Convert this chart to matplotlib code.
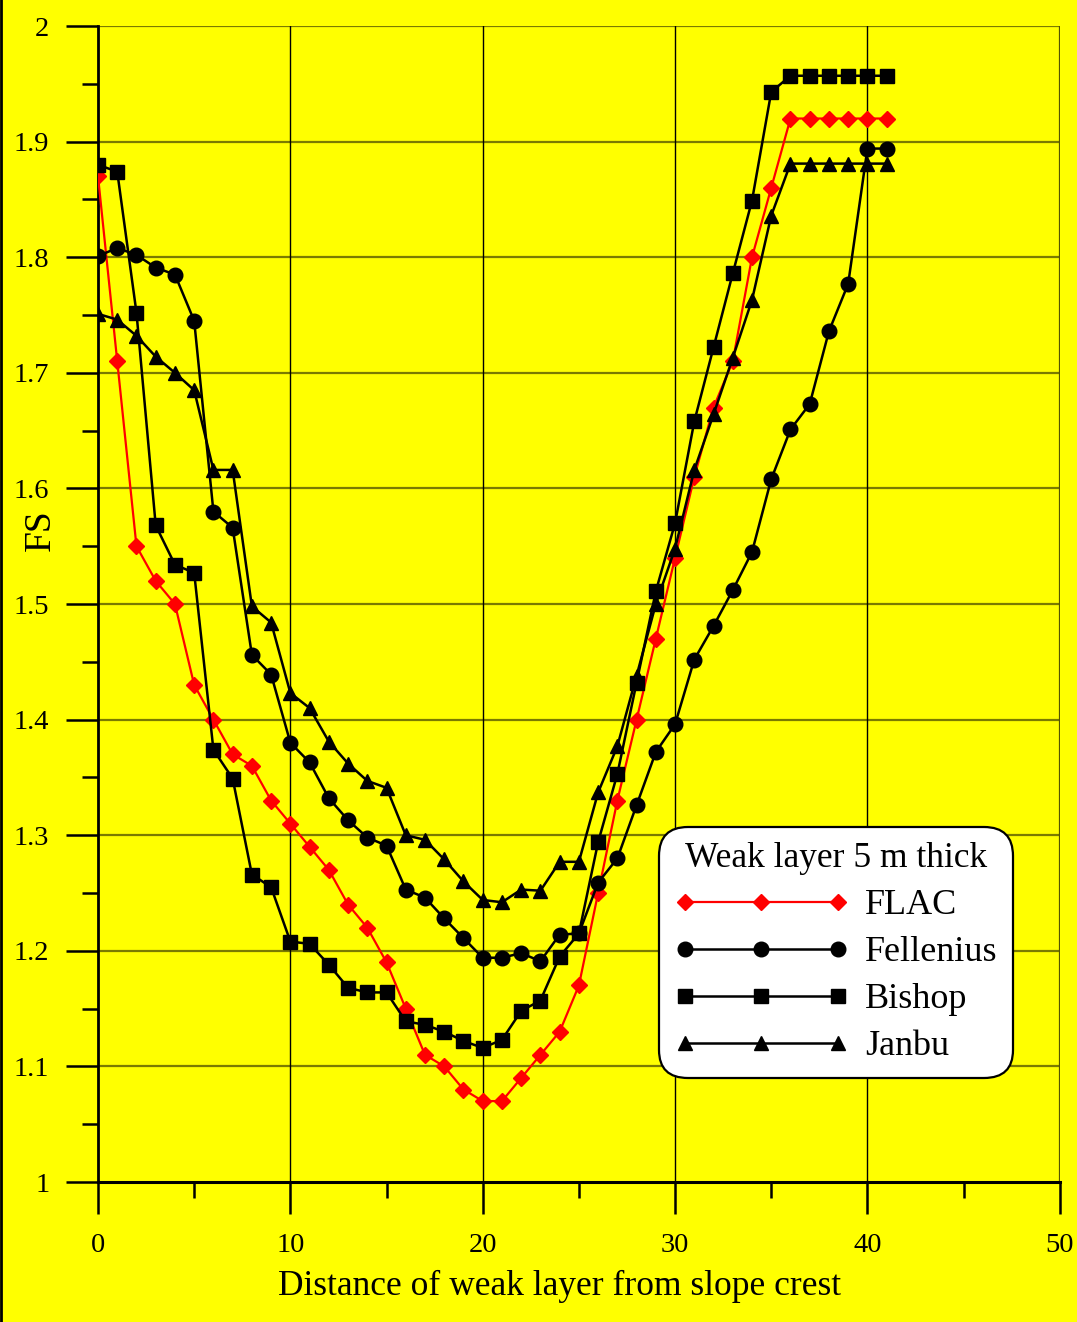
import matplotlib
matplotlib.use("Agg")
import matplotlib.pyplot as plt
from matplotlib.lines import Line2D
from matplotlib.ticker import MultipleLocator

plt.rcParams['font.family'] = ['Liberation Serif', 'DejaVu Serif']

# distance of weak layer from slope crest (m)
dist = list(range(0, 42))

fs_flac = [1.87, 1.71, 1.55, 1.52, 1.50, 1.43, 1.40, 1.37, 1.36, 1.33,
           1.31, 1.29, 1.27, 1.24, 1.22, 1.19, 1.15, 1.11, 1.10, 1.08,
           1.07, 1.07, 1.09, 1.11, 1.13, 1.17, 1.25, 1.33, 1.40, 1.47,
           1.54, 1.61, 1.67, 1.71, 1.80, 1.86, 1.92, 1.92, 1.92, 1.92,
           1.92, 1.92]
fs_fellenius = [1.801, 1.808, 1.802, 1.791, 1.785, 1.745, 1.580, 1.566, 1.456, 1.439,
                1.380, 1.363, 1.332, 1.313, 1.298, 1.291, 1.253, 1.246, 1.228, 1.211,
                1.194, 1.194, 1.198, 1.191, 1.214, 1.215, 1.259, 1.280, 1.326, 1.372,
                1.396, 1.452, 1.481, 1.512, 1.545, 1.608, 1.651, 1.673, 1.736, 1.777,
                1.894, 1.894]
fs_bishop = [1.880, 1.874, 1.752, 1.568, 1.534, 1.527, 1.374, 1.349, 1.266, 1.255,
             1.208, 1.206, 1.188, 1.168, 1.164, 1.164, 1.139, 1.136, 1.130, 1.122,
             1.116, 1.123, 1.148, 1.157, 1.195, 1.215, 1.294, 1.353, 1.432, 1.511,
             1.570, 1.658, 1.722, 1.786, 1.849, 1.943, 1.957, 1.957, 1.957, 1.957,
             1.957, 1.957]
fs_janbu = [1.751, 1.746, 1.732, 1.714, 1.700, 1.685, 1.616, 1.616, 1.498, 1.484,
            1.423, 1.410, 1.381, 1.362, 1.347, 1.341, 1.300, 1.296, 1.279, 1.260,
            1.244, 1.242, 1.253, 1.252, 1.277, 1.277, 1.337, 1.377, 1.438, 1.500,
            1.548, 1.616, 1.664, 1.713, 1.763, 1.836, 1.881, 1.881, 1.881, 1.881,
            1.881, 1.881]

yellow = '#ffff00'
olive = '#7a7a00'

fig = plt.figure(figsize=(10.77, 13.22), dpi=100, facecolor=yellow)
ax = fig.add_axes([0.091, 0.1059, 0.893, 0.8744], facecolor=yellow)

ax.plot(dist, fs_flac, color='red', lw=1.6, marker='D', ms=8, label='FLAC', zorder=3)
ax.plot(dist, fs_fellenius, color='black', lw=1.8, marker='o', ms=10.5, label='Fellenius', zorder=3)
ax.plot(dist, fs_bishop, color='black', lw=1.8, marker='s', ms=10.5, label='Bishop', zorder=3)
ax.plot(dist, fs_janbu, color='black', lw=1.8, marker='^', ms=10.5, label='Janbu', zorder=3)

ax.set_xlim(0, 50)
ax.set_ylim(1, 2)
ax.xaxis.set_major_locator(MultipleLocator(10))
ax.xaxis.set_minor_locator(MultipleLocator(5))
ax.yaxis.set_minor_locator(MultipleLocator(0.05))
ax.set_yticks([1, 1.1, 1.2, 1.3, 1.4, 1.5, 1.6, 1.7, 1.8, 1.9, 2])
ax.set_yticklabels(['1', '1.1', '1.2', '1.3', '1.4', '1.5', '1.6', '1.7', '1.8', '1.9', '2'])

# grid: olive horizontals, thin black verticals
for yv in [1.1, 1.2, 1.3, 1.4, 1.5, 1.6, 1.7, 1.8, 1.9, 2.0]:
    ax.axhline(yv, color=olive, lw=1.6, zorder=1)
for xv in [10, 20, 30, 40]:
    ax.axvline(xv, color='black', lw=1.0, zorder=1)
ax.axvline(50, color='#555500', lw=1.6, zorder=1)

for s in ['top', 'right']:
    ax.spines[s].set_visible(False)
ax.spines['left'].set_linewidth(2.0)
ax.spines['bottom'].set_linewidth(2.2)

ax.tick_params(which='major', direction='out', length=23, width=1.8, labelsize=20.5, pad=12)
ax.tick_params(which='minor', direction='out', length=11.5, width=1.8)
ax.tick_params(axis='x', which='major', pad=14)

ax.set_xlabel('Distance of weak layer from slope crest', fontsize=25.5)
ax.xaxis.set_label_coords(0.48, -0.0764)
ax.set_ylabel('FS', fontsize=27)
ax.yaxis.set_label_coords(-0.042, 0.564)

leg = ax.legend(title='Weak layer 5 m thick', loc='lower right',
                bbox_to_anchor=(0.9396, 0.099), borderaxespad=0,
                fontsize=26, title_fontsize=25.5, numpoints=3,
                handlelength=4.84, handletextpad=0.45, labelspacing=0.38,
                framealpha=1, facecolor='white', edgecolor='black',
                borderpad=0.12, fancybox=True)
leg.get_frame().set_linewidth(1.6)
leg.get_frame().set_boxstyle('round,pad=0.3,rounding_size=0.8')
leg.set_zorder(5)

fig.add_artist(Line2D([0.001, 0.001], [0, 1], color='black', lw=2, transform=fig.transFigure))

fig.savefig('out.png', dpi=100, facecolor=yellow)
